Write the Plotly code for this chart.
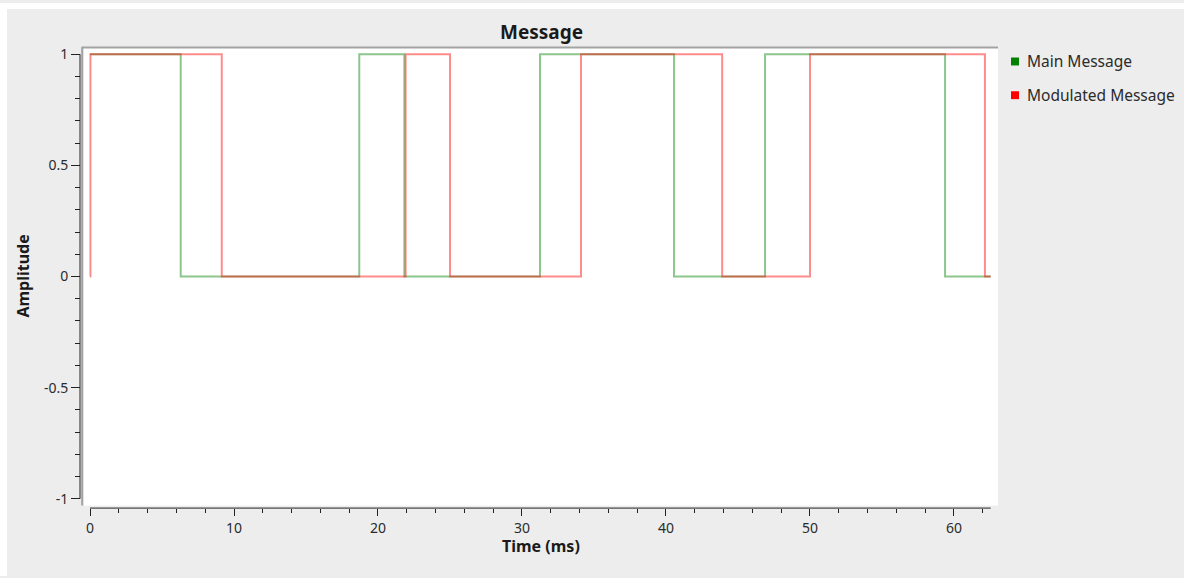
import plotly.graph_objects as go

W, H = 1184, 578
FONT = "Noto Sans"

# ---------------- data ----------------
series_names = ["Main Message", "Modulated Message"]
legend_colors = ["#008000", "#ff0000"]
line_colors = ["rgba(0,128,0,0.45)", "rgba(255,0,0,0.45)"]

# step signals: time (ms) at which each level starts, and the level
main_t = [0.0, 6.3, 18.7, 21.83, 31.25, 40.56, 46.88, 59.38, 62.55]
main_v = [1, 0, 1, 0, 1, 0, 1, 0, 0]
mod_t = [0.0, 0.03, 9.15, 21.92, 25.0, 34.1, 43.9, 50.0, 62.15, 62.55]
mod_v = [0, 1, 0, 1, 0, 1, 0, 1, 0, 0]

x_ticks = [0, 10, 20, 30, 40, 50, 60]
y_ticks = [-1, -0.5, 0, 0.5, 1]
y_tick_text = ["-1", "-0.5", "0", "0.5", "1"]

title_text = "Message"
x_title = "Time (ms)"
y_title = "Amplitude"


def px(x):
    return x / W


def py(y):
    return 1 - y / H


t_end = max(main_t[-1], mod_t[-1])

fig = go.Figure()
for t, v, name, col in [(main_t, main_v, series_names[0], line_colors[0]),
                        (mod_t, mod_v, series_names[1], line_colors[1])]:
    fig.add_trace(go.Scatter(x=t, y=v, mode="lines", name=name,
                             line=dict(color=col, width=2, shape="hv"),
                             showlegend=False, hoverinfo="skip"))

axis_font = dict(family=FONT, size=14, color="#2b2b2b")
tick_col = "#222222"

fig.update_layout(
    width=W, height=H,
    margin=dict(l=0, r=0, t=0, b=0),
    paper_bgcolor="#ededed",
    plot_bgcolor="white",
    font=dict(family=FONT, color="#2b2b2b"),
    xaxis=dict(
        domain=[px(84), px(998)],
        range=[-6 / 14.4, t_end + 7.3 / 14.4],
        anchor="free", position=py(509.5),
        showline=False, showgrid=False, zeroline=False,
        ticks="outside", ticklen=7, tickwidth=1, tickcolor=tick_col,
        tickvals=x_ticks, ticktext=[str(v) for v in x_ticks],
        tickfont=axis_font,
        minor=dict(dtick=2, tick0=0, ticks="outside", ticklen=4,
                   tickwidth=1, tickcolor=tick_col, showgrid=False),
    ),
    yaxis=dict(
        domain=[py(507), py(45)],
        range=[-1.031, 1.030],
        anchor="free", position=px(80),
        showline=False, showgrid=False, zeroline=False,
        ticks="outside", ticklen=9, tickwidth=1, tickcolor=tick_col,
        tickvals=y_ticks, ticktext=y_tick_text,
        tickfont=axis_font,
        minor=dict(dtick=0.1, tick0=0, ticks="outside", ticklen=5,
                   tickwidth=1, tickcolor=tick_col, showgrid=False),
    ),
)

shapes = [
    # white screenshot border (top and left)
    dict(type="rect", xref="paper", yref="paper", x0=0, x1=1.0,
         y0=py(6), y1=1.0, fillcolor="white", line=dict(width=0),
         layer="below"),
    dict(type="rect", xref="paper", yref="paper", x0=0, x1=px(7),
         y0=0, y1=1.0, fillcolor="white", line=dict(width=0),
         layer="below"),
    # canvas frame (top and left sunken edges)
    dict(type="line", xref="x domain", yref="y domain", x0=-0.002, x1=1,
         y0=1, y1=1, line=dict(color="#a3a3a3", width=2)),
    dict(type="line", xref="x domain", yref="y domain", x0=-0.002, x1=-0.002,
         y0=0, y1=1.002, line=dict(color="#a3a3a3", width=2)),
    # axis backbones
    dict(type="line", xref="x", yref="paper", x0=0, x1=t_end,
         y0=py(509.5), y1=py(509.5), line=dict(color=tick_col, width=1)),
    dict(type="line", xref="paper", yref="y", x0=px(80), x1=px(80),
         y0=y_ticks[0], y1=y_ticks[-1], line=dict(color=tick_col, width=1)),
]

# legend squares
for i, col in enumerate(legend_colors):
    yc = 59 + 34 * i
    shapes.append(dict(type="rect", xref="paper", yref="paper",
                       x0=px(1011), x1=px(1019), y0=py(yc + 4), y1=py(yc - 4),
                       fillcolor=col, line=dict(width=0)))

annotations = [
    dict(text="<b>%s</b>" % title_text, xref="x domain", yref="paper",
         x=0.5, y=py(29), showarrow=False, xanchor="center", yanchor="middle",
         font=dict(family=FONT, size=19, color="#1a1a1a")),
    dict(text="<b>%s</b>" % x_title, xref="x domain", yref="paper",
         x=0.5, y=py(548), showarrow=False, xanchor="center", yanchor="middle",
         font=dict(family=FONT, size=16, color="#1a1a1a")),
    dict(text="<b>%s</b>" % y_title, xref="paper", yref="y domain",
         x=px(23), y=0.5, showarrow=False, textangle=-90,
         xanchor="center", yanchor="middle",
         font=dict(family=FONT, size=16, color="#1a1a1a")),
]
for i, name in enumerate(series_names):
    yc = 59 + 34 * i
    annotations.append(dict(text=name, xref="paper", yref="paper",
                            x=px(1025), y=py(yc), showarrow=False,
                            xanchor="left", yanchor="middle",
                            font=dict(family=FONT, size=15.5, color="#2b2b2b")))

fig.update_layout(shapes=shapes, annotations=annotations)

fig.write_html("out.html", config={"displayModeBar": False},
               post_script="document.body.style.margin='0';document.body.style.overflow='hidden';")
